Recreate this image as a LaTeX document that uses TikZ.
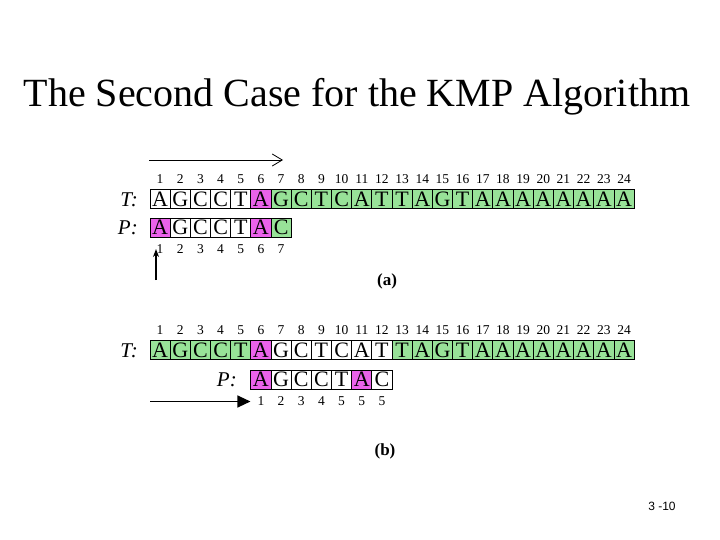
\documentclass[tikz,border=0pt]{standalone}
\usepackage{fontspec}
\setmainfont{Liberation Serif}
\setsansfont{Liberation Sans}
\usetikzlibrary{arrows.meta,positioning}

\definecolor{matchgreen}{RGB}{152,226,152}
\definecolor{hitpink}{RGB}{234,98,234}

\begin{document}
\begin{tikzpicture}[
    x=1pt, y=-1pt,
    cell/.style={
        draw,
        line width=0.8pt,
        minimum width=20.17pt,
        minimum height=19pt,
        inner sep=0pt,
        font=\fontsize{22}{22}\selectfont
    },
    idx/.style={
        inner sep=0pt,
        font=\fontsize{13.5}{13.5}\selectfont
    },
    rowlabel/.style={
        anchor=east,
        inner sep=0pt,
        font=\fontsize{21}{21}\selectfont\itshape
    },
    caption/.style={
        font=\fontsize{17}{17}\selectfont\bfseries
    }
]
    \useasboundingbox (0,0) rectangle (720,540);

    % Title
    \node[font=\fontsize{40}{40}\selectfont] (title) at (357,97)
        {The Second Case for the KMP Algorithm};

    % (a) text T
    \node[rowlabel] (Ta) at (138,200) {T:};
    \foreach [count=\i] \ch/\f in {A/white,G/white,C/white,C/white,T/white,
        A/hitpink,G/matchgreen,C/matchgreen,T/matchgreen,C/matchgreen,
        A/matchgreen,T/matchgreen,T/matchgreen,A/matchgreen,G/matchgreen,
        T/matchgreen,A/matchgreen,A/matchgreen,A/matchgreen,A/matchgreen,
        A/matchgreen,A/matchgreen,A/matchgreen,A/matchgreen} {
        \node[cell, fill=\f] (ta\i) at ({150+20.17*(\i-0.5)},199) {\ch};
        \node[idx, above=5pt of ta\i] (na\i) {\i};
    }

    % (a) pattern P
    \node[rowlabel] (Pa) at (138,228) {P:};
    \foreach [count=\i] \ch/\f in {A/hitpink,G/white,C/white,C/white,T/white,
        A/hitpink,C/matchgreen} {
        \node[cell, fill=\f] (pa\i) at ({150+20.17*(\i-0.5)},227.5) {\ch};
        \node[idx, below=7pt of pa\i] (ma\i) {\i};
    }

    % (a) arrows
    \coordinate (sa) at (149,160);
    \coordinate (ea) at (283,160);
    \draw[-{Straight Barb[length=10pt,width=12pt]}, line width=0.8pt] (sa) -- (ea);
    \coordinate (ua) at (156,280);
    \draw[-{Stealth[length=8pt,width=6pt]}, line width=1.5pt] (ua) -- (ua |- ma1.center);
    \node[caption] (capa) at (387,281) {(a)};

    % (b) text T
    \node[rowlabel] (Tb) at (138,351) {T:};
    \foreach [count=\i] \ch/\f in {A/matchgreen,G/matchgreen,C/matchgreen,
        C/matchgreen,T/matchgreen,A/hitpink,G/white,C/white,T/white,C/white,
        A/white,T/white,T/matchgreen,A/matchgreen,G/matchgreen,
        T/matchgreen,A/matchgreen,A/matchgreen,A/matchgreen,A/matchgreen,
        A/matchgreen,A/matchgreen,A/matchgreen,A/matchgreen} {
        \node[cell, fill=\f] (tb\i) at ({150+20.17*(\i-0.5)},350) {\ch};
        \node[idx, above=5pt of tb\i] (nb\i) {\i};
    }

    % (b) pattern P shifted
    \node[rowlabel] (Pb) at (237,380) {P:};
    \foreach [count=\i] \ch/\f/\n in {A/hitpink/1,G/white/2,C/white/3,
        C/white/4,T/white/5,A/hitpink/5,C/white/5} {
        \node[cell, fill=\f] (pb\i) at ({150+20.17*(\i+4.5)},379.5) {\ch};
        \node[idx, below=7pt of pb\i] (mb\i) {\n};
    }

    % (b) arrow
    \coordinate (sb) at (150,401.5);
    \draw[-{Triangle[length=13pt,width=12pt]}, line width=1.2pt] (sb) -- (pb1.west |- sb);
    \node[caption] (capb) at (385,451) {(b)};

    % Page number
    \node[font=\sffamily\fontsize{12}{12}\selectfont] (page) at (662,506) {3 -10};

\end{tikzpicture}
\end{document}
